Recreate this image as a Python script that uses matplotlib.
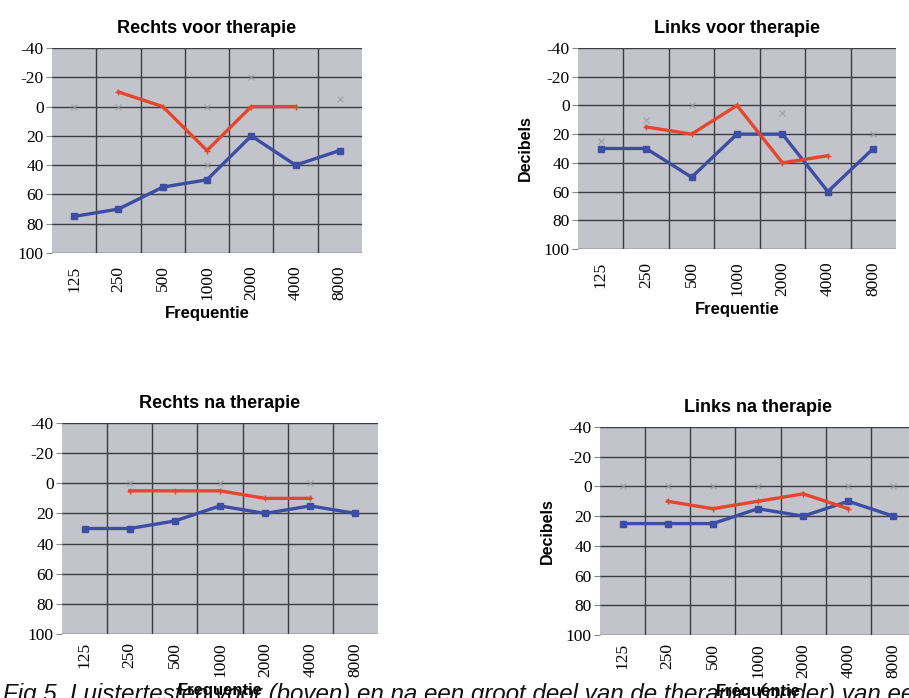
import matplotlib
matplotlib.use("Agg")
import matplotlib.pyplot as plt
import numpy as np

frequencies = ["125", "250", "500", "1000", "2000", "4000", "8000"]

titles = ["Rechts voor therapie", "Links voor therapie",
          "Rechts na therapie", "Links na therapie"]

# blue series (all 7 frequencies)
blue_rv = [75, 70, 55, 50, 20, 40, 30]
blue_lv = [30, 30, 50, 20, 20, 60, 30]
blue_rn = [30, 30, 25, 15, 20, 15, 20]
blue_ln = [25, 25, 25, 15, 20, 10, 20]

# red series (250 .. 4000)
red_idx = [1, 2, 3, 4, 5]
red_rv = [-10, 0, 30, 0, 0]
red_lv = [15, 20, 0, 40, 35]
red_rn = [5, 5, 5, 10, 10]
red_ln = [10, 15, 10, 5, 15]

# faint grey marks
grey_rv_idx = [0, 1, 3, 4, 3, 6]
grey_rv = [0, 0, 0, -20, 40, -5]
grey_lv_idx = [0, 1, 2, 4, 6]
grey_lv = [25, 10, 0, 5, 20]
grey_rn_idx = [1, 3, 5]
grey_rn = [0, 0, 0]
grey_ln_idx = [0, 1, 2, 3, 5, 6]
grey_ln = [0, 0, 0, 0, 0, 0]

yticks = [-40, -20, 0, 20, 40, 60, 80, 100]

caption = ("Fig.5. Luistertesten voor (boven) en na een groot deel van de "
           "therapie (onder) van een")

BG = "#c3c3cb"
GRID = "#3c3c44"
BLUE = "#3b4ea3"
RED = "#e5472e"

fig = plt.figure(figsize=(9.09, 6.98), dpi=100)
fig.patch.set_facecolor("white")

positions = [
    [52 / 909, 1 - 253 / 698, 310 / 909, 205 / 698],
    [578 / 909, 1 - 249 / 698, 318 / 909, 201 / 698],
    [62 / 909, 1 - 634 / 698, 316 / 909, 211 / 698],
    [600 / 909, 1 - 635 / 698, 316 / 909, 208 / 698],
]
blues = [blue_rv, blue_lv, blue_rn, blue_ln]
reds = [red_rv, red_lv, red_rn, red_ln]
greys = [(grey_rv_idx, grey_rv), (grey_lv_idx, grey_lv),
         (grey_rn_idx, grey_rn), (grey_ln_idx, grey_ln)]
show_ylabel = [False, True, False, True]
xtick_pad = [9, 9, 6, 6]

serif = "Liberation Serif"
sans = "Liberation Sans"

for i in range(4):
    ax = fig.add_axes(positions[i])
    ax.set_facecolor(BG)
    x = np.arange(len(frequencies))
    gi, gv = greys[i]
    ax.plot(gi, gv, linestyle="none", marker="x", markersize=4,
            color="#9a9aa6", alpha=0.7, zorder=2)
    ax.plot(x, blues[i], color=BLUE, linewidth=2.4, marker="s",
            markersize=5, zorder=4)
    ax.plot(red_idx, reds[i], color=RED, linewidth=2.4, marker="+",
            markersize=4, zorder=5)
    ax.set_xlim(-0.5, 6.5)
    ax.set_ylim(100, -40)
    ax.set_yticks(yticks)
    ax.set_yticklabels([str(v) for v in yticks], fontfamily=serif,
                       fontsize=12.5)
    ax.set_xticks(x)
    ax.set_xticklabels(frequencies, rotation=90, fontfamily=serif,
                       fontsize=12.5)
    ax.set_xticks(np.arange(0.5, 6.5, 1.0), minor=True)
    ax.tick_params(axis="x", which="both", length=0, pad=xtick_pad[i])
    ax.tick_params(axis="y", length=4, width=0.8, color="#888888", pad=2)
    ax.grid(False)
    ax.xaxis.grid(True, which="minor", color=GRID, linewidth=1.0)
    ax.yaxis.grid(True, which="major", color=GRID, linewidth=1.0)
    ax.set_axisbelow(True)
    for s in ax.spines.values():
        s.set_visible(False)
    ax.set_title(titles[i], fontfamily=sans, fontweight="bold",
                 fontsize=13, pad=11)
    ax.set_xlabel("Frequentie", fontfamily=sans, fontweight="bold",
                  fontsize=12, labelpad=4)
    if show_ylabel[i]:
        ax.set_ylabel("Decibels", fontfamily=sans, fontweight="bold",
                      fontsize=11.5, labelpad=8)

fig.text(0.003, -0.004, caption, fontfamily=sans, style="italic",
         fontsize=17.4, ha="left", va="baseline", color="#111111",
         zorder=10)

fig.savefig("out.png", dpi=100, facecolor="white")
